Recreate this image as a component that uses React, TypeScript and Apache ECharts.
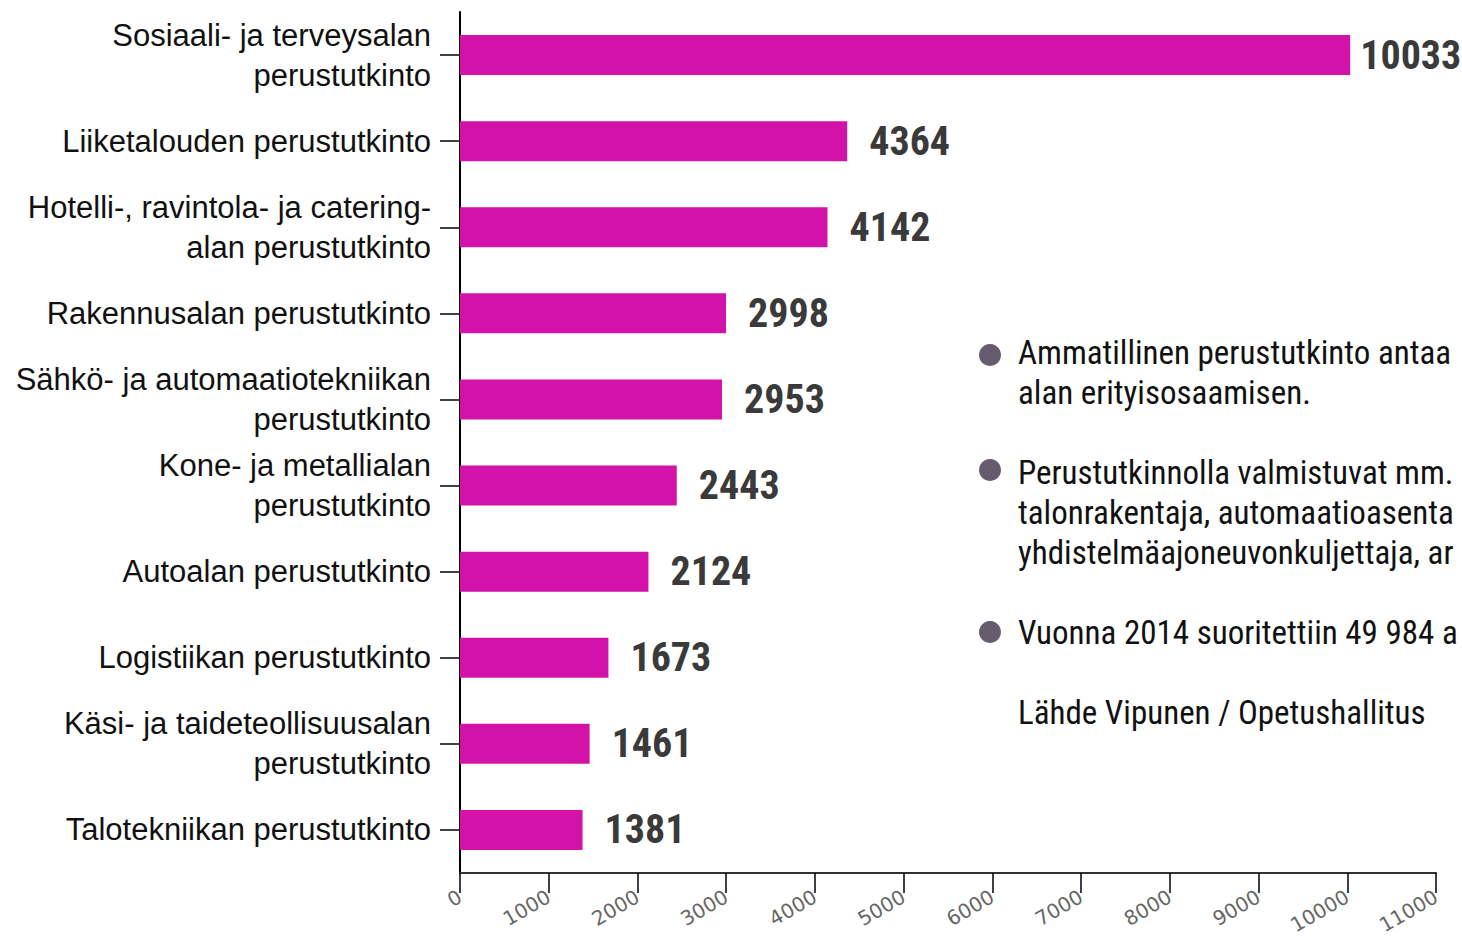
import React, { useEffect, useRef } from "react";
import * as echarts from "echarts";

const categories = [
  "Sosiaali- ja terveysalan\nperustutkinto",
  "Liiketalouden perustutkinto",
  "Hotelli-, ravintola- ja catering-\nalan perustutkinto",
  "Rakennusalan perustutkinto",
  "Sähkö- ja automaatiotekniikan\nperustutkinto",
  "Kone- ja metallialan\nperustutkinto",
  "Autoalan perustutkinto",
  "Logistiikan perustutkinto",
  "Käsi- ja taideteollisuusalan\nperustutkinto",
  "Talotekniikan perustutkinto",
];
const values = [10033, 4364, 4142, 2998, 2953, 2443, 2124, 1673, 1461, 1381];

const notes = [
  { bulletY: 355, lines: ["Ammatillinen perustutkinto antaa", "alan erityisosaamisen."], y: 352 },
  {
    bulletY: 470,
    lines: ["Perustutkinnolla valmistuvat mm.", "talonrakentaja, automaatioasenta", "yhdistelmäajoneuvonkuljettaja, ar"],
    y: 472,
  },
  { bulletY: 632, lines: ["Vuonna 2014 suoritettiin 49 984 a"], y: 632 },
];
const source = "Lähde Vipunen / Opetushallitus";

const condensed = "'Roboto Condensed', 'DejaVu Sans Condensed', 'Liberation Sans Narrow', Roboto, sans-serif";

export default function App() {
  const ref = useRef<HTMLDivElement>(null);
  useEffect(() => {
    if (!ref.current) return;
    const chart = echarts.init(ref.current, null, { renderer: "svg" });
    const graphics: any[] = [];
    notes.forEach((n) => {
      graphics.push({
        type: "circle",
        shape: { cx: 990, cy: n.bulletY, r: 11 },
        style: { fill: "#675c6e" },
      });
      n.lines.forEach((l, i) => {
        graphics.push({
          type: "text",
          x: 1018,
          y: n.y + i * 40,
          style: {
            text: l,
            fill: "#111",
            font: `33px ${condensed}`,
            textVerticalAlign: "middle",
          },
        });
      });
    });
    graphics.push({
      type: "text",
      x: 1018,
      y: 712,
      style: { text: source, fill: "#111", font: `33px ${condensed}`, textVerticalAlign: "middle" },
    });

    const data = values.map((v, i) => (i === 0 ? { value: v, label: { distance: 10 } } : { value: v }));

    chart.setOption({
      animation: false,
      backgroundColor: "#fff",
      grid: { left: 460, right: 26, top: 12, bottom: 64, containLabel: false, outerBoundsMode: "none" },
      xAxis: {
        type: "value",
        min: 0,
        max: 11000,
        interval: 1000,
        splitLine: { show: false },
        axisLine: { show: true, lineStyle: { color: "#333", width: 2 } },
        axisTick: { show: true, length: 20, lineStyle: { color: "#000", width: 1.5 } },
        axisLabel: {
          rotate: 30,
          color: "#666",
          fontSize: 20,
          fontFamily: "'DejaVu Sans', sans-serif",
          margin: 22,
          formatter: (v: number) => String(v),
        },
      },
      yAxis: {
        type: "category",
        inverse: true,
        data: categories,
        axisLine: { show: true, lineStyle: { color: "#000", width: 2 } },
        axisTick: { show: true, alignWithLabel: true, length: 20, lineStyle: { color: "#000", width: 1.5 } },
        axisLabel: {
          color: "#111",
          fontSize: 31,
          lineHeight: 40,
          margin: 29,
          padding: [5, 0, 0, 0],
          fontFamily: "'Liberation Sans', Arial, sans-serif",
        },
      },
      series: [
        {
          type: "bar",
          data,
          barWidth: 40,
          itemStyle: { color: "#d212a8" },
          label: {
            show: true,
            position: "right",
            distance: 22,
            color: "#3a3a3a",
            fontSize: 40,
            fontWeight: "bold",
            fontFamily: condensed,
          },
        },
      ],
      graphic: graphics,
    });
    return () => chart.dispose();
  }, []);
  return <div ref={ref} style={{ position: "fixed", left: 0, top: 0, width: 1462, height: 937 }} />;
}
